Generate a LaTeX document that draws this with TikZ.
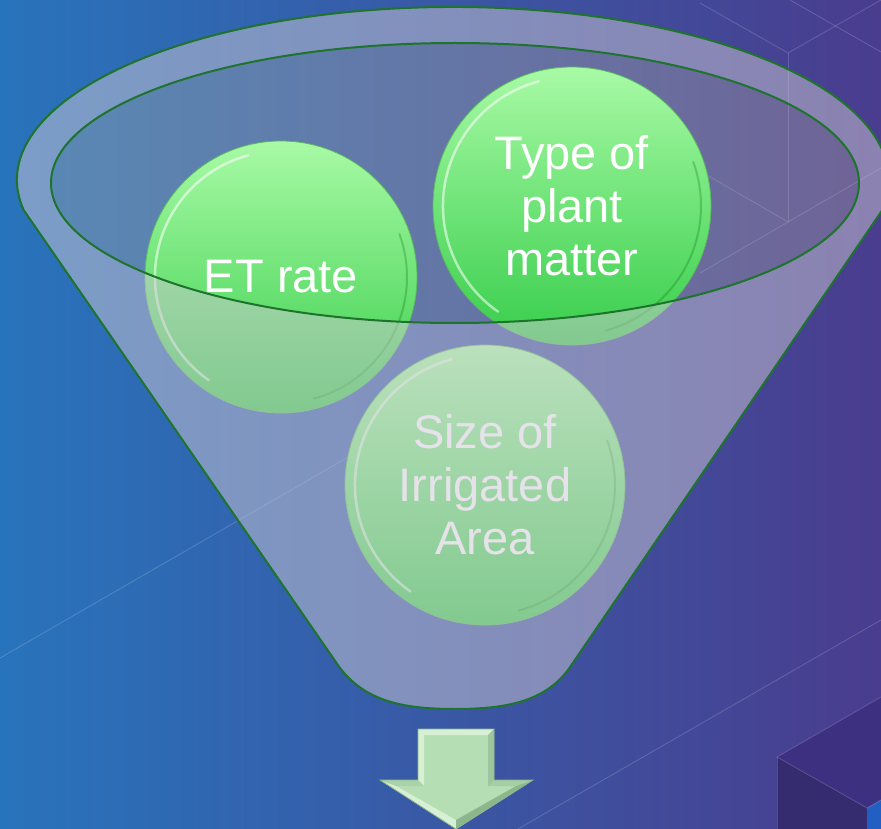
\documentclass[tikz,border=0pt]{standalone}
\usepackage{fontspec}
\setmainfont{Liberation Sans}
\definecolor{bgL}{RGB}{40,116,188}
\definecolor{bgR}{RGB}{74,60,142}
\definecolor{bodyc}{RGB}{205,200,212}
\definecolor{innerc}{RGB}{200,190,170}
\definecolor{rimc}{RGB}{30,115,45}
\definecolor{balltop}{RGB}{168,250,165}
\definecolor{ballbot}{RGB}{55,205,75}
\definecolor{ballrim}{RGB}{90,185,95}
\definecolor{arrowc}{RGB}{182,222,180}
\definecolor{arrowd}{RGB}{140,182,140}
\definecolor{arrowl}{RGB}{215,240,212}
\definecolor{cubetop}{RGB}{62,48,128}
\definecolor{cubeleft}{RGB}{52,44,110}
\definecolor{cubeblue}{RGB}{35,95,195}
\tikzset{
  bgline/.style={white, opacity=0.16, line width=0.9pt},
  bubble/.style={circle, inner sep=0pt, minimum size=#1, draw=ballrim, line width=0.8pt,
    top color=balltop, bottom color=ballbot, text=white, align=center,
    font=\fontsize{47}{53}\selectfont},
  bevelhi/.style={white, opacity=0.55, line width=2.5pt, line cap=round},
  bevello/.style={black!60!green, opacity=0.25, line width=2pt, line cap=round},
  funnelline/.style={draw=rimc, line width=2pt},
}
\begin{document}
\begin{tikzpicture}[x=1pt,y=-1pt]
\useasboundingbox (0,0) rectangle (881,829);
% background
\shade[left color=bgL, right color=bgR] (0,0) rectangle (881,829);
% faint background lines
\draw[bgline] (0,658) -- (350,456);
\draw[bgline] (518,829) -- (881,620);
\coordinate (wa) at (788,53);
\coordinate (wb) at (788,222);
\draw[bgline] (wa) -- (wb);
\draw[bgline] (700,3) -- (wa) -- (881,0);
\draw[bgline] (790,0) -- (881,52);
\draw[bgline] (700,171) -- (wb) -- (881,168);
\draw[bgline] (wb) -- (700,273);
% cube bottom right
\coordinate (ca) at (777,757);
\coordinate (cb) at (867,808);
\fill[cubetop] (ca) -- (881,697) -- (881,800) -- (cb) -- cycle;
\fill[cubeleft] (ca) -- (cb) -- (867,829) -- (777,829) -- cycle;
\fill[cubeblue] (cb) -- (881,800) -- (881,829) -- (867,829) -- cycle;
\draw[bgline] (881,697) -- (ca) -- (cb) -- (881,800);
\draw[bgline] (ca) -- (777,829);
% inner opening of funnel
\coordinate (ic) at (455,183);
\fill[innerc, opacity=0.3] (ic) ellipse [x radius=404pt, y radius=140pt];
% bubbles
\node[bubble=272pt] (et) at (281,277) {ET rate};
\node[bubble=278pt] (type) at (572,206) {Type of\\plant\\matter};
\node[bubble=280pt] (size) at (485,485) {Size of\\Irrigated\\Area};
\foreach \n/\r in {et/126, type/129, size/130}{
  \draw[bevelhi] (\n.center) ++(105:\r pt) arc[start angle=105, end angle=235, radius=\r pt];
  \draw[bevello] (\n.center) ++(285:\r pt) arc[start angle=285, end angle=380, radius=\r pt];
}
% funnel body
\coordinate (fl) at (23.6,210);
\coordinate (fr) at (882.4,210);
\coordinate (bl) at (340,668);
\coordinate (br) at (568,670);
\coordinate (bm) at (455,709);
\fill[bodyc, opacity=0.5, even odd rule]
  (fl) arc[start angle=190, end angle=-10, x radius=436pt, y radius=173pt]
  -- (br) .. controls (545,700) and (510,709) .. (bm)
  .. controls (400,709) and (365,700) .. (bl) -- cycle
  (ic) ellipse [x radius=404pt, y radius=140pt];
\draw[funnelline]
  (fl) arc[start angle=190, end angle=-10, x radius=436pt, y radius=173pt]
  -- (br) .. controls (545,700) and (510,709) .. (bm)
  .. controls (400,709) and (365,700) .. (bl) -- cycle;
\draw[funnelline] (ic) ellipse [x radius=404pt, y radius=140pt];
% arrow
\coordinate (a1) at (418,729);
\coordinate (a2) at (494,729);
\coordinate (a3) at (494,780);
\coordinate (a4) at (533,780);
\coordinate (a5) at (456,829);
\coordinate (a6) at (380,780);
\coordinate (a7) at (418,780);
\coordinate (i1) at (424,735);
\coordinate (i2) at (488,735);
\coordinate (i3) at (488,786);
\coordinate (i4) at (516,786);
\coordinate (i5) at (456,820);
\coordinate (i6) at (396,786);
\coordinate (i7) at (424,786);
\fill[arrowc] (a1) -- (a2) -- (a3) -- (a4) -- (a5) -- (a6) -- (a7) -- cycle;
\fill[arrowl] (a1) -- (a2) -- (i2) -- (i1) -- cycle;
\fill[arrowl] (a1) -- (i1) -- (i7) -- (a7) -- cycle;
\fill[arrowl] (a6) -- (i6) -- (i5) -- (a5) -- cycle;
\fill[arrowd!60!arrowc] (a2) -- (a3) -- (i3) -- (i2) -- cycle;
\fill[arrowd] (a4) -- (a5) -- (i5) -- (i4) -- cycle;
\fill[arrowd!40!arrowc] (a3) -- (a4) -- (i4) -- (i3) -- cycle;
\fill[arrowd!30!arrowc] (a7) -- (a6) -- (i6) -- (i7) -- cycle;
\draw[arrowd, line width=0.8pt] (a1) -- (a2) -- (a3) -- (a4) -- (a5) -- (a6) -- (a7) -- cycle;
\end{tikzpicture}
\end{document}
